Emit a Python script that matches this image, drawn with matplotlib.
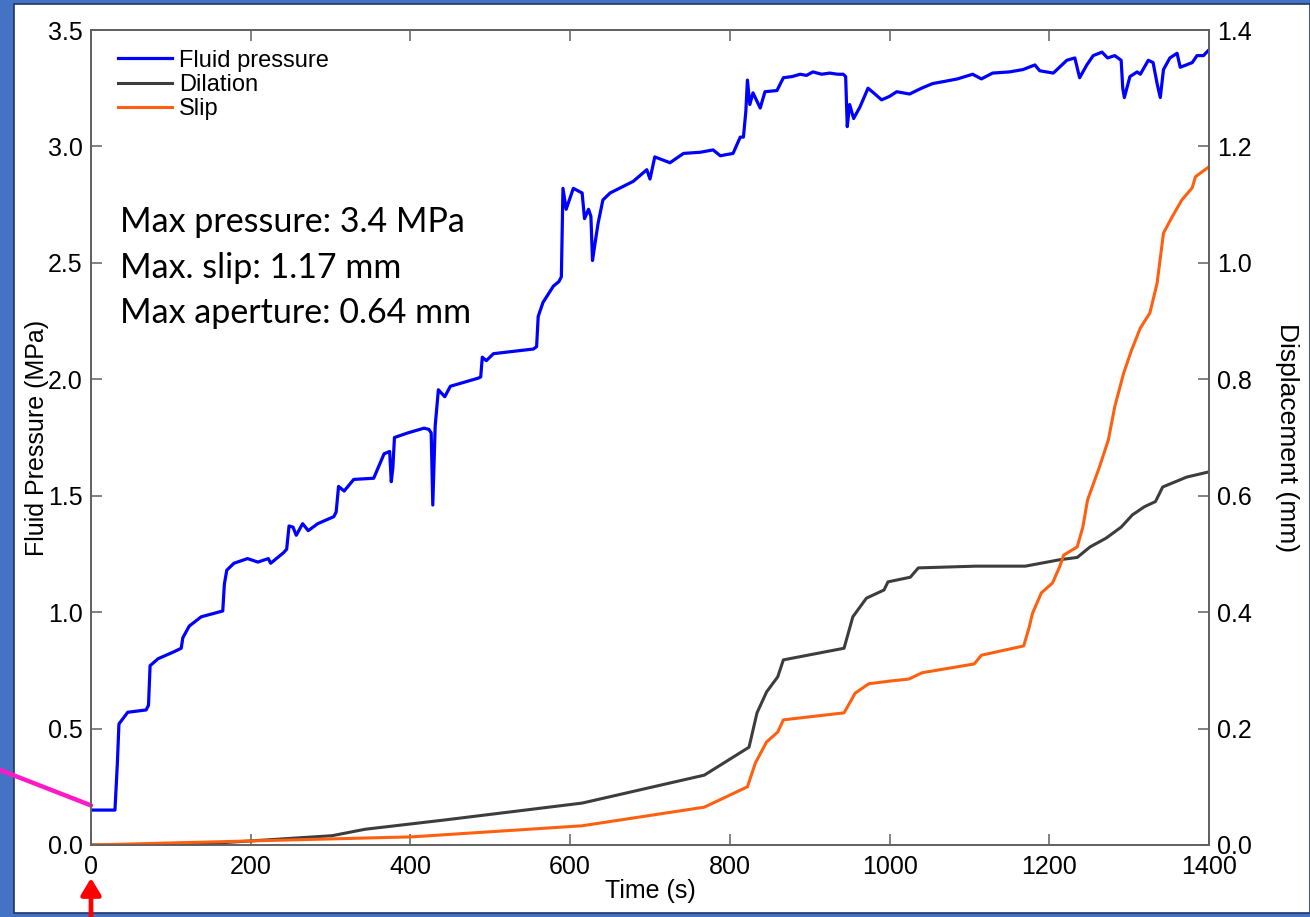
import matplotlib
matplotlib.use("Agg")
import matplotlib.pyplot as plt
from matplotlib.patches import Rectangle

# ---------------- data ----------------
time_p = [0, 30, 33, 35, 46, 69, 72, 74, 84, 104,
          113, 115, 123, 138, 165, 167, 170, 179, 196, 209,
          222, 225, 241, 245, 248, 253, 257, 265, 272, 284,
          304, 307, 310, 317, 329, 354, 367, 374, 376, 378,
          380, 397, 417, 423, 426, 428, 431, 435, 443, 450,
          485, 488, 490, 495, 504, 554, 558, 560, 566, 579,
          586, 589, 591, 595, 604, 615, 618, 623, 626, 628,
          631, 635, 641, 650, 679, 696, 700, 706, 725, 742,
          763, 779, 788, 804, 813, 817, 820, 822, 825, 829,
          838, 844, 859, 867, 878, 888, 896, 904, 915, 925,
          935, 942, 945, 947, 950, 955, 963, 973, 980, 990,
          1000, 1009, 1025, 1040, 1054, 1070, 1085, 1104, 1115, 1129,
          1150, 1167, 1182, 1188, 1205, 1222, 1232, 1238, 1247, 1255,
          1266, 1273, 1282, 1290, 1292, 1294, 1301, 1310, 1314, 1324,
          1330, 1335, 1339, 1343, 1351, 1360, 1364, 1379, 1385, 1393,
          1400]
pressure = [0.15, 0.15, 0.35, 0.52, 0.57, 0.58, 0.60, 0.77, 0.80, 0.83,
            0.845, 0.89, 0.94, 0.98, 1.005, 1.12, 1.18, 1.21, 1.23, 1.215,
            1.23, 1.21, 1.255, 1.27, 1.37, 1.365, 1.33, 1.38, 1.35, 1.38,
            1.41, 1.43, 1.54, 1.52, 1.57, 1.575, 1.68, 1.69, 1.56, 1.62,
            1.75, 1.77, 1.79, 1.785, 1.77, 1.46, 1.80, 1.955, 1.925, 1.97,
            2.005, 2.01, 2.095, 2.08, 2.11, 2.13, 2.14, 2.27, 2.33, 2.40,
            2.42, 2.44, 2.82, 2.73, 2.82, 2.80, 2.69, 2.73, 2.70, 2.51,
            2.58, 2.67, 2.77, 2.80, 2.85, 2.90, 2.86, 2.955, 2.93, 2.97,
            2.975, 2.985, 2.96, 2.97, 3.04, 3.04, 3.15, 3.285, 3.18, 3.23,
            3.165, 3.235, 3.24, 3.295, 3.30, 3.31, 3.305, 3.32, 3.31, 3.315,
            3.31, 3.31, 3.30, 3.085, 3.18, 3.12, 3.17, 3.25, 3.23, 3.20,
            3.215, 3.235, 3.225, 3.25, 3.27, 3.28, 3.29, 3.31, 3.29, 3.315,
            3.32, 3.33, 3.35, 3.325, 3.315, 3.37, 3.38, 3.295, 3.35, 3.39,
            3.405, 3.38, 3.39, 3.37, 3.25, 3.21, 3.30, 3.32, 3.31, 3.37,
            3.36, 3.27, 3.21, 3.33, 3.38, 3.40, 3.34, 3.36, 3.39, 3.39,
            3.415]

time_dil = [0, 118, 200, 302, 343, 443, 615, 768, 824, 834,
            846, 860, 867, 943, 954, 971, 993, 998, 1026, 1036,
            1108, 1170, 1213, 1235, 1251, 1271, 1290, 1304, 1319, 1333,
            1342, 1372, 1400]
dilation = [0, 0, 0.007, 0.016, 0.027, 0.043, 0.072, 0.12, 0.168, 0.227,
            0.263, 0.289, 0.318, 0.338, 0.392, 0.424, 0.438, 0.452, 0.46, 0.476,
            0.479, 0.479, 0.49, 0.494, 0.512, 0.527, 0.546, 0.567, 0.581, 0.59,
            0.615, 0.632, 0.641]

time_slip = [0, 402, 615, 768, 822, 832, 846, 860, 867, 943,
             957, 974, 1003, 1024, 1041, 1106, 1115, 1168, 1175, 1179,
             1190, 1204, 1213, 1218, 1235, 1242, 1248, 1263, 1274, 1282,
             1293, 1303, 1314, 1326, 1335, 1343, 1353, 1366, 1379, 1383,
             1400]
slip = [0, 0.014, 0.033, 0.065, 0.10, 0.141, 0.177, 0.194, 0.215, 0.227,
        0.261, 0.277, 0.282, 0.285, 0.296, 0.311, 0.326, 0.342, 0.375, 0.398,
        0.433, 0.45, 0.478, 0.498, 0.512, 0.546, 0.593, 0.65, 0.696, 0.753,
        0.81, 0.85, 0.888, 0.914, 0.965, 1.051, 1.077, 1.108, 1.129, 1.148,
        1.165]

series_labels = ["Fluid pressure", "Dilation", "Slip"]
notes = ["Max pressure: 3.4 MPa", "Max. slip: 1.17 mm", "Max aperture: 0.64 mm"]
x_ticks = [0, 200, 400, 600, 800, 1000, 1200, 1400]
p_ticks = [0.0, 0.5, 1.0, 1.5, 2.0, 2.5, 3.0, 3.5]
d_ticks = [0.0, 0.2, 0.4, 0.6, 0.8, 1.0, 1.2, 1.4]

# ---------------- styling ----------------
W, H = 1310, 917
FONT = ["Liberation Sans", "DejaVu Sans"]
plt.rcParams['font.family'] = FONT
BLUE = "#0000FF"
GRAY = "#3d3d3d"
ORANGE = "#FF6010"
SPINE = "#606060"
TICK_FS = 18
LABEL_FS = 18

fig = plt.figure(figsize=(W / 100, H / 100), dpi=100)
fig.patch.set_facecolor("#4472C4")
# white slide area (behind everything)
slide = Rectangle((14 / W, 4 / H), 1 - 14 / W, 909 / H, transform=fig.transFigure,
                  facecolor="white", edgecolor="#1F3864", linewidth=1.2, zorder=-10)
fig.add_artist(slide)

ax = fig.add_axes([91 / W, 72 / H, 1118 / W, 815 / H])
ax.set_facecolor("none")
ax2 = ax.twinx()
ax2.set_facecolor("none")

l1, = ax.plot(time_p, pressure, color=BLUE, lw=2.3, solid_joinstyle="round")
l2, = ax2.plot(time_dil, dilation, color=GRAY, lw=2.2)
l3, = ax2.plot(time_slip, slip, color=ORANGE, lw=2.2)

ax.set_xlim(0, 1400)
ax.set_ylim(0, 3.5)
ax2.set_ylim(0, 1.4)
ax.set_xticks(x_ticks)
ax.set_xticklabels([str(v) for v in x_ticks])
ax.set_yticks(p_ticks)
ax.set_yticklabels([f"{v:.1f}" for v in p_ticks])
ax2.set_yticks(d_ticks)
ax2.set_yticklabels([f"{v:.1f}" for v in d_ticks])

for a in (ax, ax2):
    for s in a.spines.values():
        s.set_color(SPINE)
        s.set_linewidth(1.2)
ax.tick_params(axis="x", which="both", direction="in", length=8, width=1.1, color=SPINE,
               top=True, labelsize=TICK_FS, pad=7)
ax.tick_params(axis="y", direction="in", length=8, width=1.1, color=SPINE, labelsize=TICK_FS, pad=6)
ax2.tick_params(axis="y", direction="in", length=8, width=1.1, color=SPINE, labelsize=TICK_FS, pad=6)

ax.set_xlabel("Time (s)", fontsize=LABEL_FS, labelpad=0)
ax.set_ylabel("Fluid Pressure (MPa)", fontsize=LABEL_FS, labelpad=-1)
ax2.set_ylabel("Displacement (mm)", fontsize=19, rotation=270, labelpad=34)

leg = ax.legend([l1, l2, l3], series_labels, loc="upper left",
                bbox_to_anchor=(0.024, 0.976), frameon=False, fontsize=17,
                borderpad=0, borderaxespad=0, handlelength=2.3, handletextpad=0.3,
                labelspacing=0.1)

for i, txt in enumerate(notes):
    ax.text(0.026, 0.764 - i * 0.0555, txt, transform=ax.transAxes, fontsize=24.5,
            family=["Lato", "DejaVu Sans"], va="center", ha="left", color="black")

# annotations: magenta pointer to starting pressure, red arrow at t=0
ax.annotate("", xy=(time_p[0], pressure[0] + 0.02), xycoords="data",
            xytext=(0.0, 147 / H), textcoords="figure fraction",
            arrowprops=dict(arrowstyle="-", color="#FF1AC6", lw=3.2, shrinkA=0, shrinkB=0),
            annotation_clip=False)
ax.annotate("", xy=(x_ticks[0], 39 / H), xycoords=("data", "figure fraction"),
            xytext=(x_ticks[0], 0.0), textcoords=("data", "figure fraction"),
            arrowprops=dict(arrowstyle="-|>,head_width=0.6,head_length=1.0", color="#FF0000",
                            lw=3.4, shrinkA=0, shrinkB=0),
            annotation_clip=False)

fig.savefig("out.png", dpi=100, facecolor=fig.get_facecolor())
